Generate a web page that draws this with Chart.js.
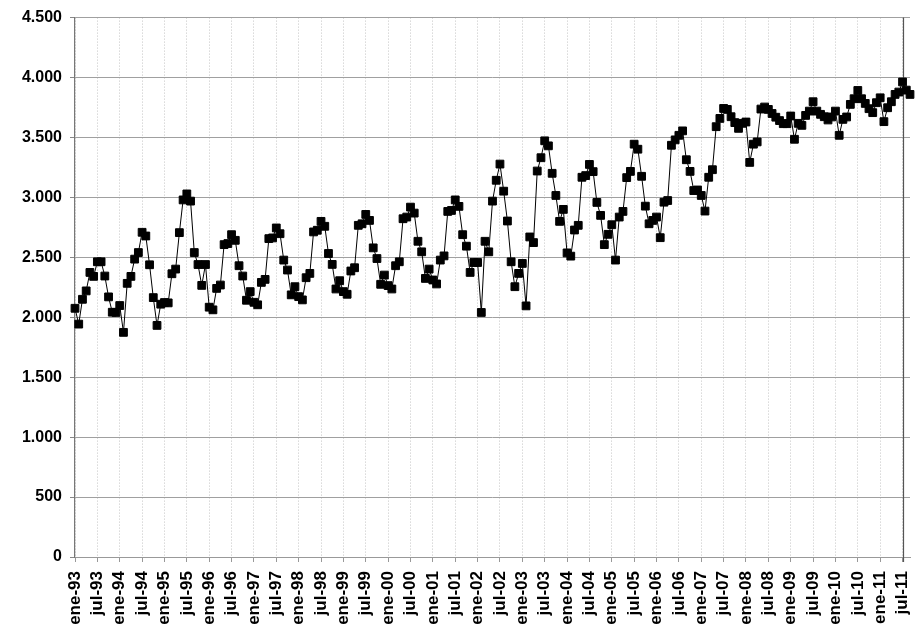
<!DOCTYPE html>
<html>
<head>
<meta charset="utf-8">
<script src="https://cdn.jsdelivr.net/npm/chart.js@4.4.0/dist/chart.umd.min.js"></script>
<style>
  html, body { margin: 0; padding: 0; background: #fff; }
  #wrap { width: 922px; height: 634px; position: relative; }
</style>
</head>
<body>
<div id="wrap"><canvas id="grafico"></canvas></div>
<script>
// Valores mensuales por año (ene..dic)
const v1993 = [2075, 1943, 2150, 2220, 2374, 2341, 2463, 2463, 2344, 2170, 2042, 2040];
const v1994 = [2098, 1874, 2283, 2341, 2485, 2540, 2709, 2678, 2438, 2164, 1932, 2109];
const v1995 = [2123, 2120, 2363, 2402, 2706, 2979, 3029, 2969, 2540, 2440, 2266, 2440];
const v1996 = [2084, 2062, 2241, 2269, 2606, 2615, 2689, 2642, 2430, 2344, 2142, 2214];
const v1997 = [2125, 2104, 2291, 2316, 2656, 2662, 2745, 2697, 2477, 2394, 2187, 2255];
const v1998 = [2172, 2145, 2330, 2366, 2712, 2726, 2800, 2759, 2532, 2441, 2236, 2305];
const v1999 = [2214, 2192, 2386, 2413, 2767, 2780, 2858, 2808, 2579, 2490, 2275, 2352];
const v2000 = [2264, 2236, 2430, 2463, 2822, 2836, 2919, 2869, 2634, 2546, 2324, 2402];
const v2001 = [2311, 2278, 2477, 2512, 2883, 2891, 2979, 2925, 2689, 2593, 2374, 2457];
const v2002 = [2457, 2040, 2634, 2546, 2969, 3143, 3278, 3052, 2803, 2463, 2255, 2366];
const v2003 = [2449, 2095, 2670, 2623, 3220, 3331, 3472, 3430, 3201, 3016, 2800, 2900];
const v2004 = [2537, 2510, 2728, 2767, 3168, 3182, 3275, 3215, 2958, 2850, 2606, 2692];
const v2005 = [2772, 2477, 2836, 2883, 3165, 3217, 3444, 3402, 3176, 2927, 2780, 2808];
const v2006 = [2836, 2664, 2960, 2974, 3435, 3480, 3518, 3555, 3314, 3217, 3057, 3062];
const v2007 = [3016, 2886, 3168, 3231, 3590, 3659, 3742, 3734, 3673, 3624, 3576, 3618];
const v2008 = [3629, 3292, 3444, 3463, 3737, 3754, 3734, 3700, 3669, 3641, 3615, 3615];
const v2009 = [3679, 3485, 3618, 3601, 3684, 3720, 3798, 3720, 3693, 3673, 3646, 3671];
const v2010 = [3720, 3518, 3651, 3671, 3776, 3823, 3892, 3823, 3784, 3740, 3707, 3790];
const v2011 = [3831, 3632, 3748, 3798, 3859, 3879, 3963, 3895, 3859];

const anios = ['93','94','95','96','97','98','99','00','01','02','03','04','05','06','07','08','09','10','11'];
const meses = ['ene','feb','mar','abr','may','jun','jul','ago','sep','oct','nov','dic'];
const yTicks = [0, 500, 1000, 1500, 2000, 2500, 3000, 3500, 4000, 4500];
const lineaVertical = 'jul-11'; // linea oscura vertical

const valores = [].concat(v1993, v1994, v1995, v1996, v1997, v1998, v1999, v2000, v2001,
  v2002, v2003, v2004, v2005, v2006, v2007, v2008, v2009, v2010, v2011);

// categorias: una por mes
const categorias = [];
anios.forEach(a => meses.forEach(m => categorias.push(m + '-' + a)));
categorias.length = valores.length;

const FONT = "'Liberation Sans', Arial, sans-serif";

// miles con punto
function miles(v) {
  return String(v).replace(/\B(?=(\d{3})+(?!\d))/g, '.');
}

const lineaPlugin = {
  id: 'lineaJul11',
  beforeDatasetsDraw(chart) {
    const x = chart.scales.x.getPixelForValue(categorias.indexOf(lineaVertical));
    const { top, bottom } = chart.chartArea;
    const ctx = chart.ctx;
    ctx.save();
    ctx.strokeStyle = '#555';
    ctx.lineWidth = 1.2;
    ctx.beginPath();
    ctx.moveTo(Math.round(x) + 0.5, top);
    ctx.lineTo(Math.round(x) + 0.5, bottom + 5);
    ctx.stroke();
    ctx.restore();
  }
};

new Chart(document.getElementById('grafico'), {
  type: 'line',
  data: {
    labels: categorias,
    datasets: [{
      data: valores,
      borderColor: '#000',
      backgroundColor: '#000',
      borderWidth: 1,
      pointStyle: 'rect',
      pointRadius: 5.5,
      pointBorderWidth: 1,
      pointBackgroundColor: '#000',
      pointBorderColor: '#000',
      tension: 0,
      fill: false
    }]
  },
  options: {
    responsive: true,
    maintainAspectRatio: false,
    animation: false,
    layout: { padding: { top: 15, right: 12, left: 0, bottom: 0 } },
    plugins: {
      legend: { display: false },
      tooltip: { enabled: false }
    },
    scales: {
      x: {
        type: 'category',
        offset: false,
        afterFit: s => { s.height = 77; s.paddingRight = 0; s.paddingLeft = 0; },
        grid: {
          color: '#c4c4c4',
          lineWidth: 1,
          drawTicks: true,
          tickLength: 5,
          tickColor: '#999',
          tickBorderDash: []
        },
        border: { display: true, color: '#999', width: 1, dash: [1, 2] },
        ticks: {
          autoSkip: false,
          minRotation: 90,
          maxRotation: 90,
          padding: 9,
          color: '#000',
          font: { family: FONT, size: 17, weight: 'bold' },
          callback: (v, i) => (i % 6 === 0 ? categorias[i] : null)
        }
      },
      y: {
        min: 0,
        max: 4500,
        afterFit: s => { s.width = 75; },
        afterBuildTicks: s => { s.ticks = yTicks.map(v => ({ value: v })); },
        grid: {
          color: '#a0a0a0',
          lineWidth: 1,
          tickLength: 5,
          tickColor: '#888'
        },
        border: { display: true, color: '#777', width: 1.2 },
        ticks: {
          padding: 8,
          color: '#000',
          font: { family: FONT, size: 16, weight: 'bold' },
          callback: v => miles(v)
        }
      }
    }
  },
  plugins: [lineaPlugin]
});
</script>
</body>
</html>
